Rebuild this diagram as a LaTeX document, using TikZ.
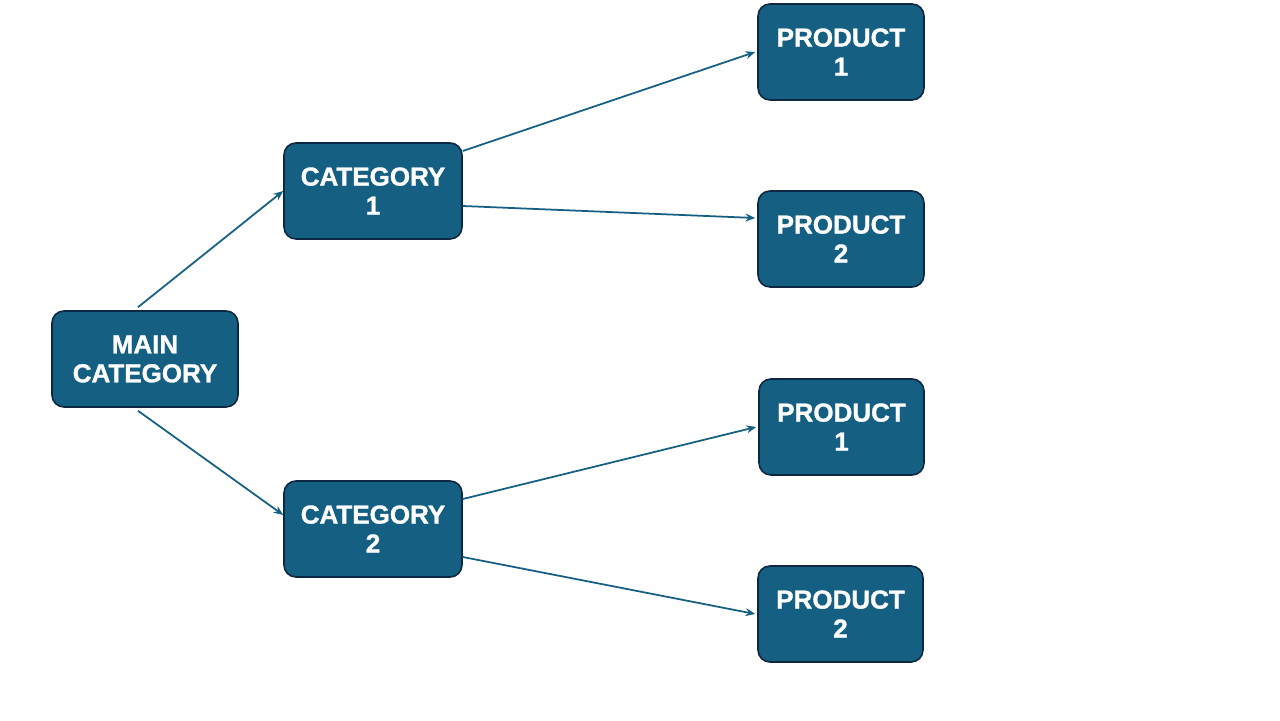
\documentclass[tikz,border=0pt]{standalone}
\usepackage{fontspec}
\setmainfont{Liberation Sans}[BoldFeatures={FakeBold=1.2}]
\usetikzlibrary{arrows.meta, positioning}
\definecolor{boxblue}{HTML}{156082}
\definecolor{boxedge}{HTML}{0E2841}

\tikzset{
  catbox/.style={draw=boxedge, line width=0.9pt, fill=boxblue, rounded corners=0.24cm,
    text=white, align=center, minimum height=1.92cm, inner sep=0pt,
    font=\fontsize{14.8}{16.5}\selectfont\bfseries},
  link/.style={draw=boxblue, line width=1pt, -{Stealth[length=5.5pt, width=4.5pt]}}
}

\begin{document}
\begin{tikzpicture}
\useasboundingbox[fill=white] (0,0) rectangle (25.6,14.4);

\node[catbox, minimum width=3.72cm] (main) at (2.9, 7.22) {MAIN\\CATEGORY};
\node[catbox, minimum width=3.56cm] (cat1) at (7.46, 10.58) {CATEGORY\\1};
\node[catbox, minimum width=3.56cm] (cat2) at (7.46, 3.82) {CATEGORY\\2};

\node[catbox, minimum width=3.32cm] (prodA1) at (16.82, 13.36) {PRODUCT\\1};
\node[catbox, minimum width=3.32cm] (prodA2) at (16.82, 9.62) {PRODUCT\\2};
\node[catbox, minimum width=3.30cm] (prodB1) at (16.83, 5.86) {PRODUCT\\1};
\node[catbox, minimum width=3.30cm] (prodB2) at (16.81, 2.12) {PRODUCT\\2};

% main category to categories
\draw[link] ([xshift=-0.14cm, yshift=0.06cm]main.north) -- (cat1.west);
\draw[link] ([xshift=-0.14cm, yshift=-0.06cm]main.south) -- ([yshift=0.28cm]cat2.west);

% categories to products
\draw[link] ([yshift=0.8cm]cat1.east) -- ([xshift=-0.04cm]prodA1.west);
\draw[link] ([yshift=-0.3cm]cat1.east) -- ([xshift=-0.04cm, yshift=0.42cm]prodA2.west);
\draw[link] ([yshift=0.6cm]cat2.east) -- ([xshift=-0.04cm]prodB1.west);
\draw[link] ([yshift=-0.56cm]cat2.east) -- ([xshift=-0.04cm]prodB2.west);

\end{tikzpicture}
\end{document}
